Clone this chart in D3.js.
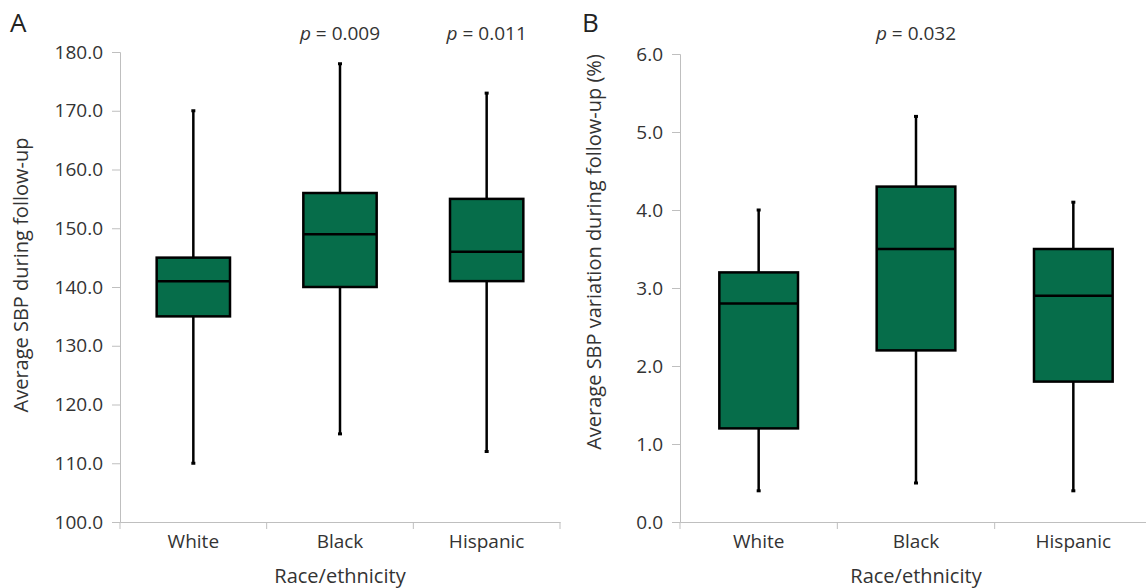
<!DOCTYPE html>
<html>
<head>
<meta charset="utf-8">
<script src="https://cdn.jsdelivr.net/npm/d3@7"></script>
<style>
  body { margin: 0; background: #fff; }
  svg { display: block; font-family: "Open Sans", sans-serif; }
</style>
</head>
<body>
<div id="chart"></div>
<script>
const groups = ["White", "Black", "Hispanic"];

// panel A: average SBP during follow-up
const sbpMin = [110, 115, 112];
const sbpQ1 = [135, 140, 141];
const sbpMedian = [141, 149, 146];
const sbpQ3 = [145, 156, 155];
const sbpMax = [170, 178, 173];
const sbpTicks = [100, 110, 120, 130, 140, 150, 160, 170, 180];
const sbpPvals = ["", "0.009", "0.011"];

// panel B: average SBP variation (%)
const varMin = [0.4, 0.5, 0.4];
const varQ1 = [1.2, 2.2, 1.8];
const varMedian = [2.8, 3.5, 2.9];
const varQ3 = [3.2, 4.3, 3.5];
const varMax = [4.0, 5.2, 4.1];
const varTicks = [0, 1, 2, 3, 4, 5, 6];
const varPvals = ["", "0.032", ""];

const W = 1146, H = 588;
const green = "#066d4a";
const textCol = "#333";
const axisCol = "#bfbfbf";

const svg = d3.select("#chart")
  .append("svg")
  .attr("width", W)
  .attr("height", H);

function panel(opts) {
  const rows = groups.map((g, i) => ({
    group: g, min: opts.min[i], q1: opts.q1[i], med: opts.med[i],
    q3: opts.q3[i], max: opts.max[i], p: opts.pvals[i]
  }));

  const x = d3.scaleBand().domain(groups).range(opts.xRange).padding(0);
  const y = d3.scaleLinear().domain(opts.yDomain).range(opts.yRange);
  const g = svg.append("g");

  // y axis
  const yAxis = g.append("g")
    .attr("transform", `translate(${opts.xRange[0]},0)`)
    .call(d3.axisLeft(y).tickValues(opts.ticks).tickFormat(d3.format(".1f")).tickSize(8).tickPadding(9));
  yAxis.selectAll("path, line").attr("stroke", axisCol);
  yAxis.selectAll("text").attr("fill", textCol).style("font-size", "19px").style("font-family", "Open Sans");

  // x axis with ticks at band edges
  const xAxis = g.append("g")
    .attr("transform", `translate(0,${opts.yRange[0]})`)
    .call(d3.axisBottom(x).tickSize(0).tickPadding(13));
  xAxis.selectAll("path").attr("stroke", axisCol);
  xAxis.selectAll("text").attr("fill", textCol).style("font-size", "19px").style("font-family", "Open Sans");
  const edges = groups.map(d => x(d)).concat([x(groups[groups.length - 1]) + x.bandwidth()]);
  g.selectAll(".edge")
    .data(edges)
    .enter().append("line")
    .attr("x1", d => d).attr("x2", d => d)
    .attr("y1", opts.yRange[0]).attr("y2", opts.yRange[0] + 7)
    .attr("stroke", axisCol);

  const bw = x.bandwidth() * 0.5;
  const cx = d => x(d.group) + x.bandwidth() / 2;

  // whiskers
  g.selectAll(".whisker")
    .data(rows)
    .enter().append("line")
    .attr("x1", cx).attr("x2", cx)
    .attr("y1", d => y(d.min)).attr("y2", d => y(d.max))
    .attr("stroke", "#000")
    .attr("stroke-width", 2.5);

  // whisker end caps (small dots)
  g.selectAll(".cap")
    .data(rows.flatMap(d => [{ group: d.group, v: d.min }, { group: d.group, v: d.max }]))
    .enter().append("rect")
    .attr("x", d => cx(d) - 2).attr("y", d => y(d.v) - 1.5)
    .attr("width", 4).attr("height", 3)
    .attr("fill", "#000");

  // boxes
  g.selectAll(".box")
    .data(rows)
    .enter().append("rect")
    .attr("x", d => cx(d) - bw / 2)
    .attr("y", d => y(d.q3))
    .attr("width", bw)
    .attr("height", d => y(d.q1) - y(d.q3))
    .attr("fill", green)
    .attr("stroke", "#000")
    .attr("stroke-width", 2.5);

  // medians
  g.selectAll(".median")
    .data(rows)
    .enter().append("line")
    .attr("x1", d => cx(d) - bw / 2).attr("x2", d => cx(d) + bw / 2)
    .attr("y1", d => y(d.med)).attr("y2", d => y(d.med))
    .attr("stroke", "#000")
    .attr("stroke-width", 2.5);

  // p values
  const pt = g.selectAll(".pval")
    .data(rows.filter(d => d.p))
    .enter().append("text")
    .attr("x", cx)
    .attr("y", 40)
    .attr("text-anchor", "middle")
    .attr("fill", textCol)
    .style("font-size", "19px");
  pt.append("tspan").style("font-style", "italic").text("p");
  pt.append("tspan").text(d => " = " + d.p);

  // axis titles
  g.append("text")
    .attr("x", (opts.xRange[0] + opts.xTitleEnd) / 2)
    .attr("y", 583)
    .attr("text-anchor", "middle")
    .attr("fill", textCol)
    .style("font-size", "20px")
    .text("Race/ethnicity");

  g.append("text")
    .attr("transform", `translate(${opts.yTitleX},${opts.yTitleY}) rotate(-90)`)
    .attr("text-anchor", "middle")
    .attr("fill", textCol)
    .style("font-size", "20px")
    .text(opts.yTitle);

  // panel letter
  g.append("text")
    .attr("x", opts.letterX)
    .attr("y", 32)
    .attr("fill", "#222")
    .style("font-size", "26px")
    .text(opts.letter);
}

panel({
  min: sbpMin, q1: sbpQ1, med: sbpMedian, q3: sbpQ3, max: sbpMax, pvals: sbpPvals,
  ticks: sbpTicks, yDomain: [100, 180], yRange: [522, 52], xRange: [120, 560], xTitleEnd: 560,
  yTitle: "Average SBP during follow-up", yTitleX: 28, yTitleY: 275,
  letter: "A", letterX: 10
});

panel({
  min: varMin, q1: varQ1, med: varMedian, q3: varQ3, max: varMax, pvals: varPvals,
  ticks: varTicks, yDomain: [0, 6], yRange: [522, 54], xRange: [680, 1152], xTitleEnd: 1152,
  yTitle: "Average SBP variation during follow-up (%)", yTitleX: 601, yTitleY: 252,
  letter: "B", letterX: 582
});
</script>
</body>
</html>
